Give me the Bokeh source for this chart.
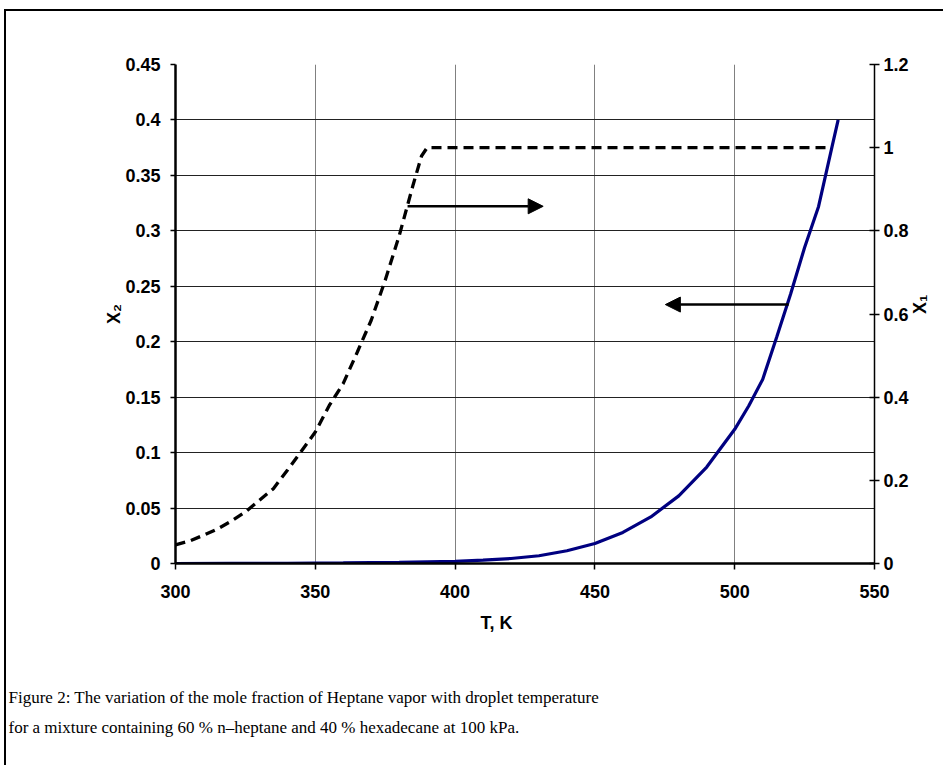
import math
from bokeh.plotting import figure
from bokeh.layouts import column
from bokeh.models import (Range1d, LinearAxis, FixedTicker, Arrow,
                          NormalHead, Grid, Title)
from bokeh.embed import file_html
from bokeh.resources import INLINE

# ---------------- data ----------------
# X2 (left axis) vs droplet temperature, blue solid curve
temp_x2 = [300, 320, 340, 360, 380, 400, 410, 420, 430, 440, 450, 460, 470,
           480, 490, 500, 505, 510, 515, 520, 525, 530, 535, 537]
x2_vals = [0.0000, 0.0001, 0.0002, 0.0005, 0.0010, 0.0020, 0.0030, 0.0045,
           0.0070, 0.0115, 0.0180, 0.0280, 0.0420, 0.0610, 0.0870, 0.1210,
           0.1420, 0.1660, 0.2040, 0.2430, 0.2850, 0.3220, 0.3780, 0.4000]

# X1 (right axis) vs droplet temperature, black dashed curve
temp_x1 = [300, 305, 310, 315, 320, 325, 330, 335, 340, 345, 350, 355, 360,
           365, 370, 375, 380, 385, 388, 390, 400, 450, 500, 534]
x1_vals = [0.045, 0.054, 0.068, 0.083, 0.102, 0.124, 0.152, 0.180, 0.224,
           0.270, 0.316, 0.380, 0.433, 0.508, 0.585, 0.681, 0.788, 0.911,
           0.980, 1.000, 1.000, 1.000, 1.000, 1.000]

# axis ticks and labels
t_ticks = [300, 350, 400, 450, 500, 550]
t_labels = ["300", "350", "400", "450", "500", "550"]
x2_ticks = [0.0, 0.05, 0.1, 0.15, 0.2, 0.25, 0.3, 0.35, 0.4, 0.45]
x2_labels = ["0", "0.05", "0.1", "0.15", "0.2", "0.25", "0.3", "0.35", "0.4", "0.45"]
x1_ticks = [0.0, 0.2, 0.4, 0.6, 0.8, 1.0, 1.2]
x1_labels = ["0", "0.2", "0.4", "0.6", "0.8", "1", "1.2"]

# pointer arrows (T start, T end, value on its axis)
arrow_x1 = [383.0, 431.5, 0.859]   # points to right axis (X1)
arrow_x2 = [519.3, 475.2, 0.2335]  # points to left axis (X2)

x_label = "T, K"
y2_label = "X\u2082"
y1_label = "X\u2081"
caption_1 = "Figure 2: The variation of the mole fraction of Heptane vapor with droplet temperature"
caption_2 = "for a mixture containing 60 % n\u2013heptane and 40 % hexadecane at 100 kPa."

# ---------------- layout ----------------
PAGE_X0, PAGE_Y0 = 6, 11              # canvas origin on the page
W, H = 937, 754
FL, FR, FT, FB = 169, 868, 53, 552    # frame edges in canvas px
XMIN, XMAX = 300, 550
YMIN, YMAX = 0.0, 0.45
Y1MIN, Y1MAX = 0.0, 1.2

AX_FONT = "Liberation Sans"
CAP_FONT = "Liberation Serif"
TICK_SIZE = "18px"
CAP_SIZE = 17

p = figure(width=W, height=H, output_backend="svg", toolbar_location=None,
           x_range=Range1d(XMIN, XMAX), y_range=Range1d(YMIN, YMAX),
           x_axis_location=None, y_axis_location=None,
           min_border_left=FL, min_border_right=W - FR,
           min_border_top=FT, min_border_bottom=H - FB)
p.outline_line_color = None
p.background_fill_color = "white"
p.border_fill_color = "white"
p.extra_y_ranges = {"x1": Range1d(Y1MIN, Y1MAX)}

def style_axis(ax, lw, tin, tout, standoff):
    ax.axis_line_color = "black"
    ax.axis_line_width = lw
    ax.major_tick_line_color = "black"
    ax.major_tick_line_width = 1.5
    ax.major_tick_in = tin
    ax.major_tick_out = tout
    ax.minor_tick_line_color = None
    ax.major_label_text_font = AX_FONT
    ax.major_label_text_font_style = "bold"
    ax.major_label_text_font_size = TICK_SIZE
    ax.major_label_text_color = "black"
    ax.major_label_standoff = standoff
    ax.axis_label_text_font = AX_FONT
    ax.axis_label_text_font_style = "bold"
    ax.axis_label_text_font_size = TICK_SIZE
    ax.axis_label_text_color = "black"

xaxis = LinearAxis(ticker=FixedTicker(ticks=t_ticks),
                   major_label_overrides=dict(zip(t_ticks, t_labels)))
style_axis(xaxis, 2.5, 0, 6, 15)
p.add_layout(xaxis, "below")

yaxis = LinearAxis(ticker=FixedTicker(ticks=x2_ticks),
                   major_label_overrides=dict(zip(x2_ticks, x2_labels)),
                   axis_label=y2_label, axis_label_standoff=-2)
style_axis(yaxis, 2.5, 0, 5, 10)
p.add_layout(yaxis, "left")

y1axis = LinearAxis(y_range_name="x1", ticker=FixedTicker(ticks=x1_ticks),
                    major_label_overrides=dict(zip(x1_ticks, x1_labels)),
                    axis_label=y1_label, axis_label_standoff=8,
                    axis_label_orientation=math.pi / 2)
style_axis(y1axis, 1.5, 5, 5, 4)
p.add_layout(y1axis, "right")

p.add_layout(Grid(dimension=0, ticker=xaxis.ticker, grid_line_color="#808080",
                  grid_line_width=1))
p.add_layout(Grid(dimension=1, ticker=yaxis.ticker, grid_line_color="#222222",
                  grid_line_width=1))

# curves
p.line(temp_x1, x1_vals, y_range_name="x1", line_color="black",
       line_width=3.3, line_dash="10 6")
p.line(temp_x2, x2_vals, line_color="#000080", line_width=3.2)

# arrows
p.add_layout(Arrow(x_start=arrow_x1[0], x_end=arrow_x1[1],
                   y_start=arrow_x1[2], y_end=arrow_x1[2], y_range_name="x1",
                   line_color="black", line_width=2.6,
                   end=NormalHead(size=15, fill_color="black", line_color="black")))
p.add_layout(Arrow(x_start=arrow_x2[0], x_end=arrow_x2[1],
                   y_start=arrow_x2[2], y_end=arrow_x2[2],
                   line_color="black", line_width=2.6,
                   end=NormalHead(size=15, fill_color="black", line_color="black")))

# x-axis title and caption stacked in the bottom panel
p.add_layout(Title(text=x_label, align="left", offset=480 - PAGE_X0 - FL,
                   text_font=AX_FONT, text_font_style="bold",
                   text_font_size=TICK_SIZE, text_color="black", standoff=21), "below")
p.add_layout(Title(text="\n" + caption_1 + "\n" + caption_2, align="left",
                   offset=8 - PAGE_X0 - FL,
                   text_font=CAP_FONT, text_font_style="normal",
                   text_font_size=f"{CAP_SIZE}px", text_line_height=26.5 / CAP_SIZE,
                   text_color="black", standoff=27), "below")

page = column(p, styles={"border-left": "2px solid black",
                         "border-top": "2px solid black",
                         "margin-left": "4px", "margin-top": "9px"})

open("out.html", "w").write(file_html(page, INLINE))
